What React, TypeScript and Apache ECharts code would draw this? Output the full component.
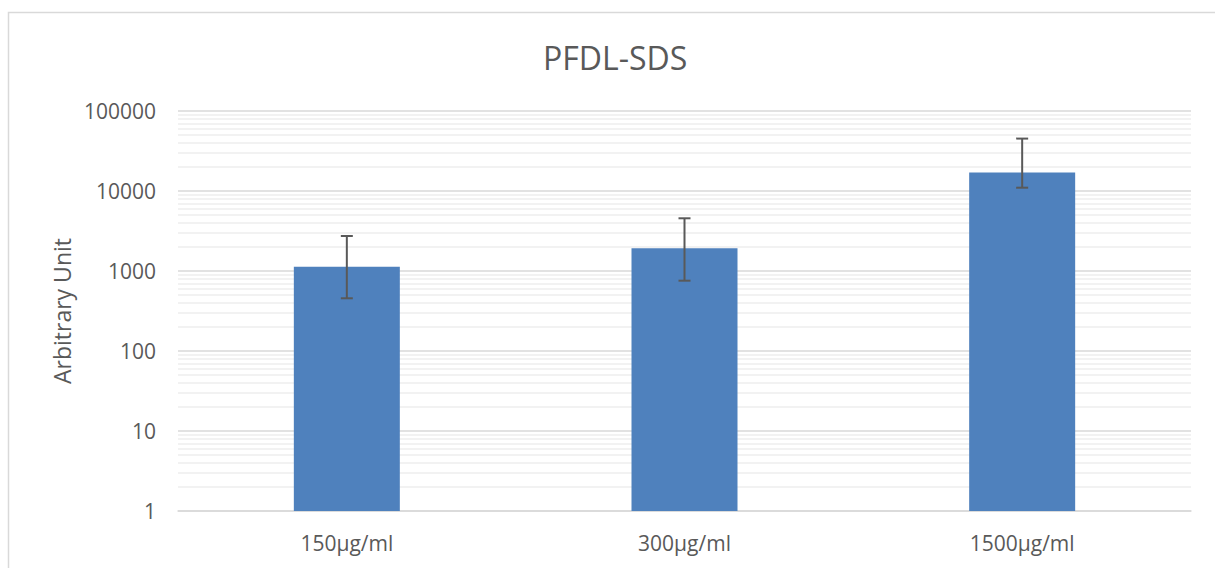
import React, { useEffect, useRef } from "react";
import * as echarts from "echarts";

const categories = ["150µg/ml", "300µg/ml", "1500µg/ml"];
const values = [1130, 1920, 17000];
const errLow = [456, 757, 11000];
const errHigh = [2740, 4560, 45200];
const decades = [1, 10, 100, 1000, 10000];
const minorMultipliers = [2, 3, 4, 5, 6, 7, 8, 9];

const FONT = "'Open Sans', 'Noto Sans', sans-serif";
const TEXT = "#595959";

export default function App() {
  const ref = useRef<HTMLDivElement>(null);
  useEffect(() => {
    if (!ref.current) return;
    const chart = echarts.init(ref.current, null, { renderer: "svg" });
    const minorLines: any[] = [];
    decades.forEach((d) => minorMultipliers.forEach((m) => minorLines.push({ yAxis: d * m })));
    const errData = categories.map((_, i) => [i, errLow[i], errHigh[i]]);
    chart.setOption({
      animation: false,
      backgroundColor: "#ffffff",
      textStyle: { fontFamily: FONT },
      title: {
        text: "PFDL-SDS",
        left: 538,
        top: 36,
        textStyle: { fontFamily: FONT, fontSize: 32, fontWeight: "normal", color: TEXT },
      },
      graphic: [
        {
          type: "rect",
          shape: { x: 8.5, y: 12.5, width: 1230, height: 580 },
          style: { fill: "none", stroke: "#d9d9d9", lineWidth: 1.5 },
          silent: true,
          z: -1,
        },
      ],
      grid: { left: 178, right: 24, top: 111, bottom: 57 },
      xAxis: {
        type: "category",
        data: categories,
        axisLine: { show: true, lineStyle: { color: "#d9d9d9", width: 1.5 } },
        axisTick: { show: false },
        axisLabel: { color: TEXT, fontFamily: FONT, fontSize: 21, margin: 21 },
        splitLine: { show: false },
      },
      yAxis: {
        type: "log",
        logBase: 10,
        min: 1,
        max: 100000,
        name: "Arbitrary Unit",
        nameLocation: "middle",
        nameGap: 104,
        nameTextStyle: { color: TEXT, fontFamily: FONT, fontSize: 23 },
        axisLine: { show: false },
        axisTick: { show: false },
        axisLabel: {
          color: TEXT,
          fontFamily: FONT,
          fontSize: 21,
          margin: 22,
          formatter: (v: number) => String(Math.round(v)),
        },
        splitLine: { show: true, lineStyle: { color: "#d9d9d9", width: 1.5 } },
      },
      series: [
        {
          type: "line",
          data: [],
          silent: true,
          z: 1,
          markLine: {
            silent: true,
            symbol: "none",
            z: 1,
            label: { show: false },
            lineStyle: { color: "#eeeeee", width: 1.5, type: "solid" },
            emphasis: { disabled: true },
            data: minorLines,
          },
        },
        {
          type: "bar",
          data: values,
          barWidth: 106,
          z: 3,
          itemStyle: { color: "#4f81bd" },
        },
        {
          type: "custom",
          z: 4,
          data: errData,
          renderItem: (params: any, api: any) => {
            const x = api.value(0);
            const lo = api.coord([x, api.value(1)]);
            const hi = api.coord([x, api.value(2)]);
            const cap = 6;
            const style = { stroke: "#595959", lineWidth: 2 };
            return {
              type: "group",
              children: [
                { type: "line", shape: { x1: hi[0], y1: hi[1], x2: lo[0], y2: lo[1] }, style },
                { type: "line", shape: { x1: hi[0] - cap, y1: hi[1], x2: hi[0] + cap, y2: hi[1] }, style },
                { type: "line", shape: { x1: lo[0] - cap, y1: lo[1], x2: lo[0] + cap, y2: lo[1] }, style },
              ],
            };
          },
        },
      ],
    });
    return () => chart.dispose();
  }, []);
  return (
    <div
      ref={ref}
      style={{ position: "fixed", left: 0, top: 0, width: 1215, height: 568 }}
    />
  );
}
